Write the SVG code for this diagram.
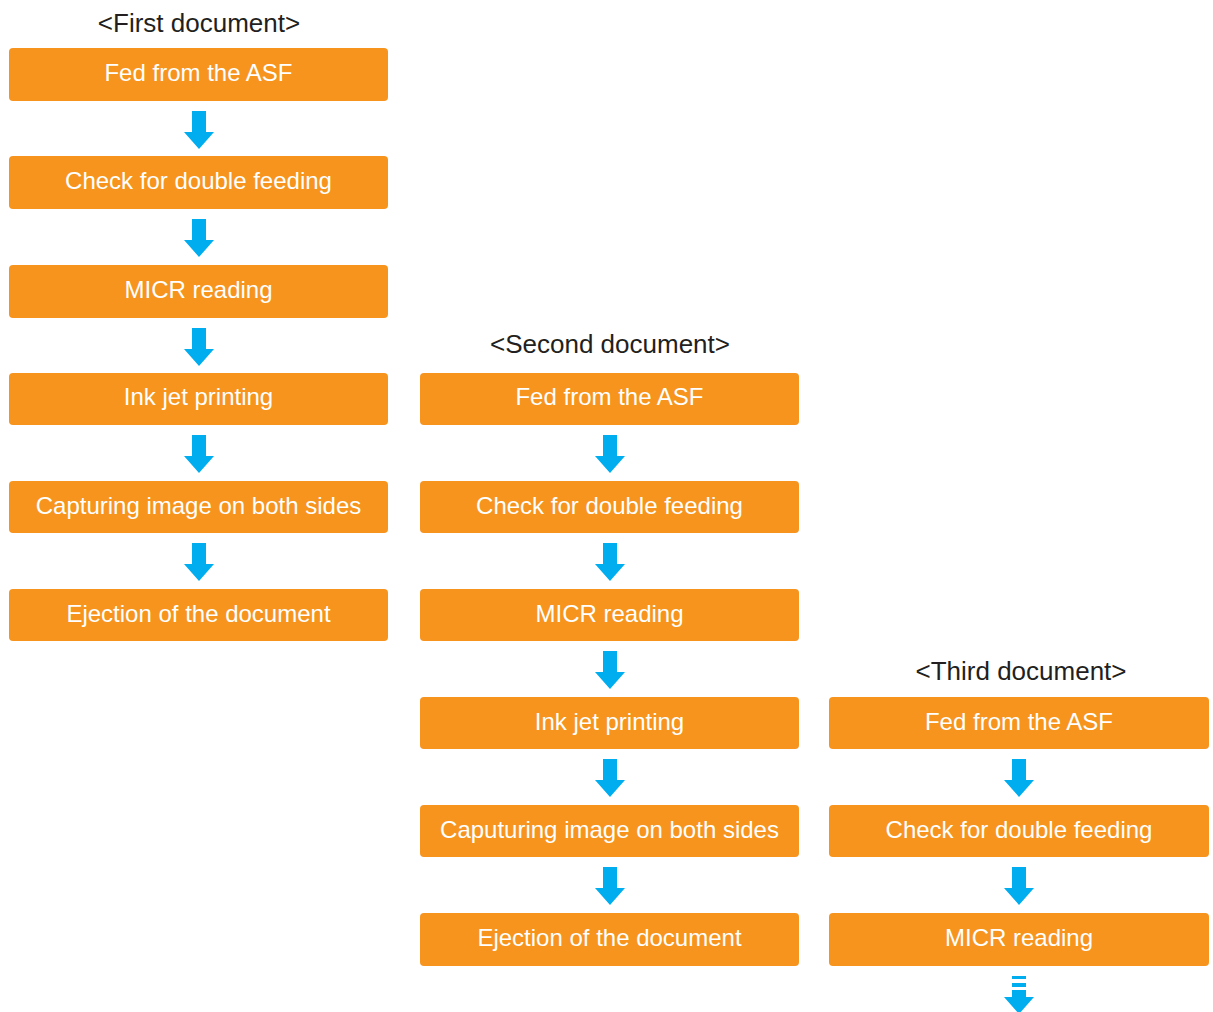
<svg xmlns="http://www.w3.org/2000/svg" xmlns:xlink="http://www.w3.org/1999/xlink" width="1213" height="1012" viewBox="0 0 1213 1012">
<style>
.box{fill:#F7941D;}
.lbl{font-family:"Liberation Sans",Arial,sans-serif;font-size:24px;fill:#FFFFFF;text-anchor:middle;}
.ttl{font-family:"Liberation Sans",Arial,sans-serif;font-size:26px;fill:#231F20;text-anchor:middle;}
.arr{fill:#00AEEF;}
</style>
<defs>
<path id="down" class="arr" d="M-7,10 H7 V31 H15 L0,48 L-15,31 H-7 Z"/>
<path id="downdash" class="arr" d="M-7,10 H7 V13 H-7 Z M-7,17 H7 V21 H-7 Z M-7,24 H7 V31 H15 L0,48 L-15,31 H-7 Z"/>
</defs>
<rect width="1213" height="1012" fill="#FFFFFF"/>

<text class="ttl" x="199" y="32">&lt;First document&gt;</text>
<text class="ttl" x="610" y="353">&lt;Second document&gt;</text>
<text class="ttl" x="1021" y="680">&lt;Third document&gt;</text>

<g id="connectors">
<use xlink:href="#down" transform="translate(199,101)"/>
<use xlink:href="#down" transform="translate(199,209)"/>
<use xlink:href="#down" transform="translate(199,318)"/>
<use xlink:href="#down" transform="translate(199,425)"/>
<use xlink:href="#down" transform="translate(199,533)"/>
<use xlink:href="#down" transform="translate(610,425)"/>
<use xlink:href="#down" transform="translate(610,533)"/>
<use xlink:href="#down" transform="translate(610,641)"/>
<use xlink:href="#down" transform="translate(610,749)"/>
<use xlink:href="#down" transform="translate(610,857)"/>
<use xlink:href="#down" transform="translate(1019,749)"/>
<use xlink:href="#down" transform="translate(1019,857)"/>
<use xlink:href="#downdash" transform="translate(1019,966)"/>
</g>

<g id="d1-fed"><rect class="box" x="9" y="48" width="379" height="53" rx="4"/><text class="lbl" x="198.5" y="81">Fed from the ASF</text></g>
<g id="d1-check"><rect class="box" x="9" y="156" width="379" height="53" rx="4"/><text class="lbl" x="198.5" y="189">Check for double feeding</text></g>
<g id="d1-micr"><rect class="box" x="9" y="265" width="379" height="53" rx="4"/><text class="lbl" x="198.5" y="298">MICR reading</text></g>
<g id="d1-ink"><rect class="box" x="9" y="373" width="379" height="52" rx="4"/><text class="lbl" x="198.5" y="405">Ink jet printing</text></g>
<g id="d1-capture"><rect class="box" x="9" y="481" width="379" height="52" rx="4"/><text class="lbl" x="198.5" y="514">Capturing image on both sides</text></g>
<g id="d1-eject"><rect class="box" x="9" y="589" width="379" height="52" rx="4"/><text class="lbl" x="198.5" y="622">Ejection of the document</text></g>

<g id="d2-fed"><rect class="box" x="420" y="373" width="379" height="52" rx="4"/><text class="lbl" x="609.5" y="405">Fed from the ASF</text></g>
<g id="d2-check"><rect class="box" x="420" y="481" width="379" height="52" rx="4"/><text class="lbl" x="609.5" y="514">Check for double feeding</text></g>
<g id="d2-micr"><rect class="box" x="420" y="589" width="379" height="52" rx="4"/><text class="lbl" x="609.5" y="622">MICR reading</text></g>
<g id="d2-ink"><rect class="box" x="420" y="697" width="379" height="52" rx="4"/><text class="lbl" x="609.5" y="730">Ink jet printing</text></g>
<g id="d2-capture"><rect class="box" x="420" y="805" width="379" height="52" rx="4"/><text class="lbl" x="609.5" y="838">Caputuring image on both sides</text></g>
<g id="d2-eject"><rect class="box" x="420" y="913" width="379" height="53" rx="4"/><text class="lbl" x="609.5" y="946">Ejection of the document</text></g>

<g id="d3-fed"><rect class="box" x="829" y="697" width="380" height="52" rx="4"/><text class="lbl" x="1019" y="730">Fed from the ASF</text></g>
<g id="d3-check"><rect class="box" x="829" y="805" width="380" height="52" rx="4"/><text class="lbl" x="1019" y="838">Check for double feeding</text></g>
<g id="d3-micr"><rect class="box" x="829" y="913" width="380" height="53" rx="4"/><text class="lbl" x="1019" y="946">MICR reading</text></g>
</svg>
